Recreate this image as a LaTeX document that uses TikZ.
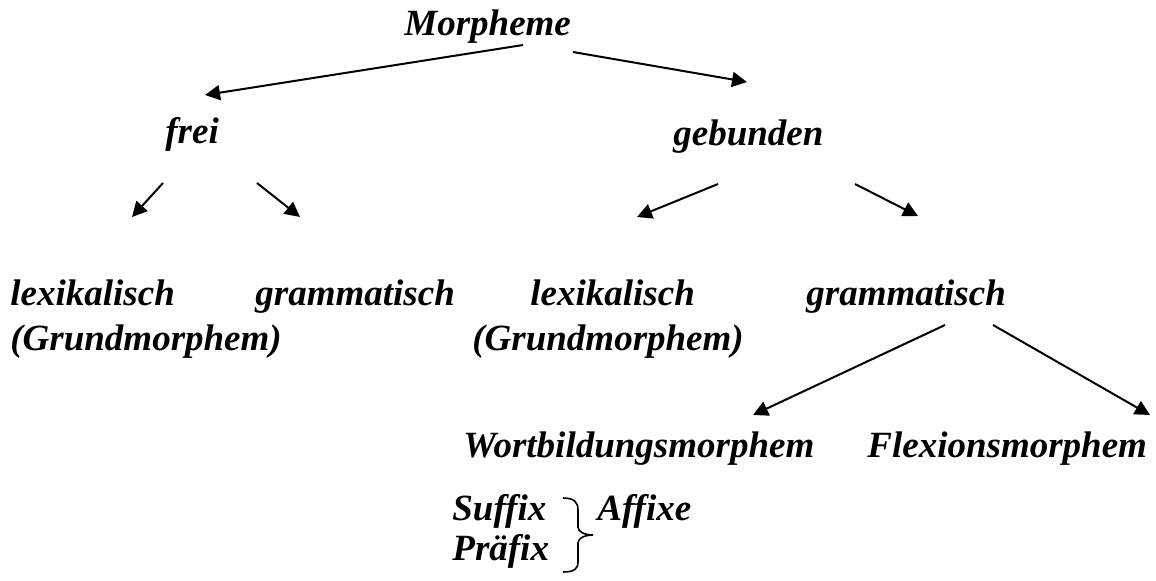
\documentclass[tikz,border=0pt]{standalone}
\usepackage{fontspec}
\setmainfont{Liberation Serif}
\usetikzlibrary{arrows.meta}

\begin{document}
\begin{tikzpicture}[x=0.5pt,y=-0.5pt,
  word/.style={anchor=base west,inner sep=0pt,font=\fontsize{18.5}{22}\selectfont\bfseries\itshape},
  branch/.style={line width=1pt,-{Triangle[length=7.5pt,width=7.5pt]}}]

	\useasboundingbox (0,0) rectangle (1156,580);

	%% Woerter (base line of each word)
	\node[word] (morpheme) at (404,35) {Morpheme};
	\node[word] (frei) at (165,143) {frei};
	\node[word] (gebunden) at (673,145) {gebunden};
	\node[word] (lexfrei) at (10,305) {lexikalisch};
	\node[word] (grundfrei) at (10,350) {(Grundmorphem)};
	\node[word] (gramfrei) at (255,305) {grammatisch};
	\node[word] (lexgeb) at (530,305) {lexikalisch};
	\node[word] (grundgeb) at (472,350) {(Grundmorphem)};
	\node[word] (gramgeb) at (806,305) {grammatisch};
	\node[word] (wortbildung) at (463,457) {Wortbildungsmorphem};
	\node[word] (flexion) at (867,457) {Flexionsmorphem};
	\node[word] (suffix) at (452,520) {Suffix};
	\node[word] (praefix) at (452,560) {Präfix};
	\node[word] (affixe) at (597,520) {Affixe};

	%% Start and end points of the arrows
	\coordinate (M1) at (523,45);  % Morpheme -> frei
	\coordinate (F0) at (205,95);
	\coordinate (M2) at (573,52);  % Morpheme -> gebunden
	\coordinate (G0) at (747,82);
	\coordinate (F1) at (163,183); % frei
	\coordinate (F2) at (257,183);
	\coordinate (F1e) at (132,217);
	\coordinate (F2e) at (300,217);
	\coordinate (G1) at (718,184); % gebunden
	\coordinate (G2) at (855,184);
	\coordinate (G1e) at (637,217);
	\coordinate (G2e) at (918,216);
	\coordinate (R1) at (945,325); % grammatisch
	\coordinate (R2) at (993,325);
	\coordinate (R1e) at (753,415);
	\coordinate (R2e) at (1150,415);

	%% Pfeile
	\draw[branch] (M1) -- (F0);
	\draw[branch] (M2) -- (G0);
	\draw[branch] (F1) -- (F1e);
	\draw[branch] (F2) -- (F2e);
	\draw[branch] (G1) -- (G1e);
	\draw[branch] (G2) -- (G2e);
	\draw[branch] (R1) -- (R1e);
	\draw[branch] (R2) -- (R2e);

	%% Klammer Suffix/Praefix -> Affixe
	\coordinate (B1) at (563,498);
	\coordinate (B2) at (563,572);
	\coordinate (BT) at (593,535);
	\draw[line width=0.8pt] (B1) .. controls (574,498) and (578,502) .. (578,510)
	  -- (578,527) .. controls (578,532) and (585,535) .. (BT)
	  .. controls (585,535) and (578,538) .. (578,543)
	  -- (578,562) .. controls (578,569) and (574,572) .. (B2);
\end{tikzpicture}
\end{document}
